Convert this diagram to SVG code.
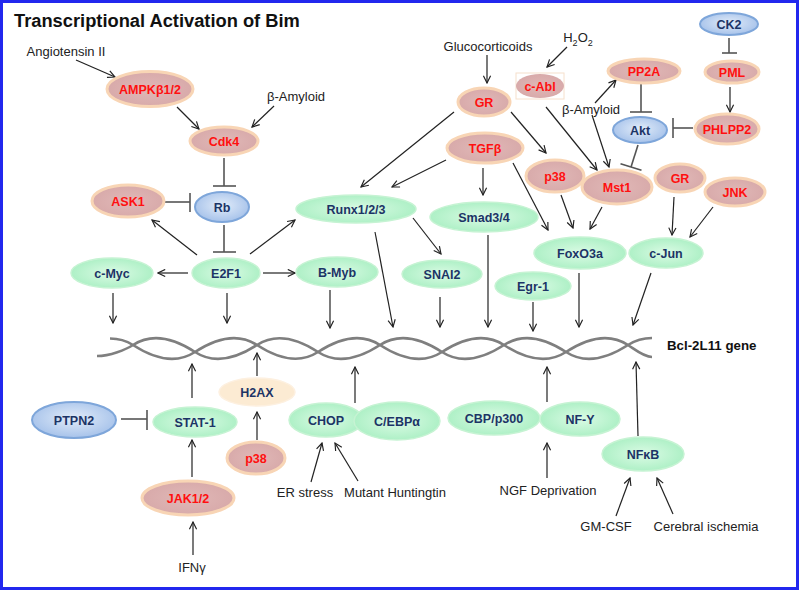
<svg xmlns="http://www.w3.org/2000/svg" width="799" height="590" viewBox="0 0 799 590">
<defs>
<radialGradient id="gG" cx="50%" cy="50%" r="50%"><stop offset="0" stop-color="#dbfbe5"/><stop offset="1" stop-color="#aef0c6"/></radialGradient>
<radialGradient id="gB" cx="50%" cy="45%" r="55%"><stop offset="0" stop-color="#e2ecf9"/><stop offset="1" stop-color="#a6c2ea"/></radialGradient>
<radialGradient id="gR" cx="50%" cy="50%" r="50%"><stop offset="0" stop-color="#e0b8b7"/><stop offset="1" stop-color="#d8aaaa"/></radialGradient>
<marker id="arr" viewBox="0 0 10 10" refX="9" refY="5" markerWidth="9" markerHeight="9" orient="auto" markerUnits="userSpaceOnUse">
<path d="M1,1 L9,5 L1,9" fill="none" stroke="#222" stroke-width="1.3"/>
</marker>
</defs>
<style>
.red ellipse{fill:url(#gR);stroke:#f8d5b5;stroke-width:3}
.grn ellipse{fill:url(#gG);stroke:#c6f3d3;stroke-width:1.5}
.blu ellipse{fill:url(#gB);stroke:#7ea6da;stroke-width:2}
.pch ellipse{fill:#fcebd3;stroke:#fdf0e0;stroke-width:1.5}
.red text{fill:#ff1010}
.grn text,.blu text,.pch text{fill:#1c3466}
.node text{font-family:"Liberation Sans",Arial,sans-serif;font-weight:bold;font-size:12.5px;text-anchor:middle}
.lbl{font-family:"Liberation Sans",Arial,sans-serif;font-size:13px;fill:#222;text-anchor:middle}
.arrows line{stroke:#222;stroke-width:1.2;marker-end:url(#arr)}
.inhib line{stroke:#555;stroke-width:1.6}
.dna path{fill:none;stroke:#7f7f7f;stroke-width:2.6}
</style>
<rect x="0" y="0" width="799" height="590" fill="#ffffff"/>
<rect x="1.5" y="1.5" width="796" height="587" fill="none" stroke="#2228ee" stroke-width="3"/>
<text x="14" y="27" font-family="Liberation Sans,Arial,sans-serif" font-weight="bold" font-size="18.3" fill="#111">Transcriptional Activation of Bim</text>

<g id="dna" class="dna">
<path d="M110,338.5 C118,338.5 126,340.5 133,345 C153,358 175,365 195,352 C215,339 237,332 257,345 C277,358 298,365 318,352 C338,339 360,332 380,345 C400,358 422,365 442,352 C462,339 484,332 504,345 C524,358 546,365 566,352 C586,339 608,332 628,345 C635,349.5 644,357 652,357"/>
<path d="M97,356 C110,356 126,349.5 133,345 C153,332 175,339 195,352 C215,365 237,358 257,345 C277,332 298,339 318,352 C338,365 360,358 380,345 C400,332 422,339 442,352 C462,365 484,358 504,345 C524,332 546,339 566,352 C586,365 608,358 628,345 C635,340.5 644,338 652,338"/>
</g>
<text x="667" y="350" font-family="Liberation Sans,Arial,sans-serif" font-weight="bold" font-size="13.3" fill="#111">Bcl-2L11 gene</text>

<g id="labels">
<text class="lbl" x="66" y="56">Angiotensin II</text>
<text class="lbl" x="296" y="101">β-Amyloid</text>
<text class="lbl" x="488" y="51">Glucocorticoids</text>
<text class="lbl" x="578" y="42">H<tspan font-size="9" dy="4">2</tspan><tspan dy="-4">O</tspan><tspan font-size="9" dy="4">2</tspan></text>
<text class="lbl" x="591" y="114">β-Amyloid</text>
<text class="lbl" x="192" y="572">IFNγ</text>
<text class="lbl" x="305" y="497">ER stress</text>
<text class="lbl" x="395" y="497">Mutant Huntingtin</text>
<text class="lbl" x="548" y="495">NGF Deprivation</text>
<text class="lbl" x="606" y="531">GM-CSF</text>
<text class="lbl" x="706" y="531">Cerebral ischemia</text>
</g>

<g id="connectors">
<g class="arrows">
<line x1="76" y1="60" x2="115" y2="77"/>
<line x1="177" y1="107" x2="199" y2="129"/>
<line x1="274" y1="106" x2="252" y2="127"/>
<line x1="197" y1="255" x2="152" y2="220"/>
<line x1="188" y1="273" x2="158" y2="273"/>
<line x1="113" y1="293" x2="113" y2="323"/>
<line x1="227" y1="293" x2="227" y2="323"/>
<line x1="250" y1="254" x2="295" y2="220"/>
<line x1="263" y1="273" x2="295" y2="273"/>
<line x1="454" y1="112" x2="361" y2="187"/>
<line x1="446" y1="160" x2="392" y2="187"/>
<line x1="413" y1="218" x2="441" y2="254"/>
<line x1="375" y1="232" x2="393" y2="327"/>
<line x1="330" y1="290" x2="330" y2="328"/>
<line x1="440" y1="297" x2="440" y2="327"/>
<line x1="483" y1="168" x2="483" y2="195"/>
<line x1="488" y1="235" x2="488" y2="327"/>
<line x1="487" y1="55" x2="487" y2="83"/>
<line x1="511" y1="112" x2="546" y2="153"/>
<line x1="513" y1="163" x2="548" y2="230"/>
<line x1="561" y1="195" x2="573" y2="228"/>
<line x1="602" y1="207" x2="590" y2="229"/>
<line x1="546" y1="107" x2="597" y2="170"/>
<line x1="595" y1="103" x2="616" y2="80"/>
<line x1="592" y1="115" x2="609" y2="167"/>
<line x1="567" y1="47" x2="547" y2="67"/>
<line x1="730" y1="87" x2="730" y2="112"/>
<line x1="674" y1="197" x2="672" y2="235"/>
<line x1="713" y1="207" x2="690" y2="237"/>
<line x1="533" y1="302" x2="533" y2="331"/>
<line x1="579" y1="273" x2="579" y2="327"/>
<line x1="651" y1="273" x2="633" y2="325"/>
<line x1="192" y1="398" x2="192" y2="364"/>
<line x1="192" y1="477" x2="192" y2="440"/>
<line x1="193" y1="555" x2="193" y2="522"/>
<line x1="257" y1="376" x2="257" y2="353"/>
<line x1="257" y1="440" x2="257" y2="412"/>
<line x1="355" y1="403" x2="355" y2="367"/>
<line x1="311" y1="482" x2="322" y2="443"/>
<line x1="358" y1="481" x2="335" y2="443"/>
<line x1="547" y1="402" x2="547" y2="367"/>
<line x1="547" y1="478" x2="547" y2="443"/>
<line x1="638" y1="436" x2="636" y2="362"/>
<line x1="616" y1="516" x2="630" y2="478"/>
<line x1="673" y1="514" x2="657" y2="478"/>
</g>
<g class="inhib">
<line x1="224" y1="158" x2="224" y2="186"/><line x1="213" y1="186" x2="236" y2="186"/>
<line x1="164" y1="202" x2="190" y2="202"/><line x1="190" y1="193" x2="190" y2="212"/>
<line x1="224" y1="225" x2="224" y2="252"/><line x1="213" y1="252" x2="236" y2="252"/>
<line x1="641" y1="83" x2="641" y2="112"/><line x1="630" y1="112" x2="652" y2="112"/>
<line x1="693" y1="128" x2="673" y2="128"/><line x1="673" y1="118" x2="673" y2="138"/>
<line x1="638" y1="145" x2="631" y2="167"/><line x1="620.5" y1="163.7" x2="641.5" y2="170.3"/>
<line x1="729" y1="38" x2="729" y2="53"/><line x1="722" y1="53" x2="737" y2="53"/>
<line x1="121" y1="419" x2="147" y2="419"/><line x1="147" y1="410" x2="147" y2="430"/>
</g>
</g>

<g id="AMPK" class="node red"><ellipse cx="150" cy="89" rx="43" ry="17.5"/><text x="150" y="93.5">AMPKβ1/2</text></g>
<g id="Cdk4" class="node red"><ellipse cx="224" cy="141" rx="34" ry="14"/><text x="224" y="145.5">Cdk4</text></g>
<g id="Rb" class="node blu"><ellipse cx="222" cy="207" rx="27" ry="15"/><text x="222" y="211.5">Rb</text></g>
<g id="ASK1" class="node red"><ellipse cx="128" cy="201" rx="36" ry="16"/><text x="128" y="205.5">ASK1</text></g>
<g id="E2F1" class="node grn"><ellipse cx="226" cy="273" rx="34" ry="15"/><text x="226" y="277.5">E2F1</text></g>
<g id="cMyc" class="node grn"><ellipse cx="112" cy="273" rx="41" ry="15"/><text x="112" y="277.5">c-Myc</text></g>
<g id="Runx" class="node grn"><ellipse cx="356" cy="209" rx="60" ry="14"/><text x="356" y="213.5">Runx1/2/3</text></g>
<g id="BMyb" class="node grn"><ellipse cx="337" cy="272" rx="41" ry="15"/><text x="337" y="276.5">B-Myb</text></g>
<g id="SNAI2" class="node grn"><ellipse cx="442" cy="274" rx="40" ry="14"/><text x="442" y="278.5">SNAI2</text></g>
<g id="Smad" class="node grn"><ellipse cx="484" cy="217" rx="54" ry="15"/><text x="484" y="221.5">Smad3/4</text></g>
<g id="TGFb" class="node red"><ellipse cx="485" cy="148" rx="38" ry="15"/><text x="485" y="152.5">TGFβ</text></g>
<g id="GR1" class="node red"><ellipse cx="484" cy="102" rx="26" ry="14"/><text x="484" y="106.5">GR</text></g>
<g id="cAbl" class="node red"><rect x="516" y="73" width="48" height="26" fill="none" stroke="#f6e0cc" stroke-width="1"/><ellipse cx="540" cy="86" rx="24" ry="12" style="stroke-width:0"/><text x="540" y="90.5">c-Abl</text></g>
<g id="p38a" class="node red"><ellipse cx="555" cy="176" rx="29" ry="16"/><text x="555" y="180.5">p38</text></g>
<g id="PP2A" class="node red"><ellipse cx="644" cy="71" rx="36" ry="12"/><text x="644" y="75.5">PP2A</text></g>
<g id="Akt" class="node blu"><ellipse cx="640" cy="130" rx="27" ry="13"/><text x="640" y="134.5">Akt</text></g>
<g id="PHLPP2" class="node red"><ellipse cx="727" cy="129" rx="32" ry="15"/><text x="727" y="133.5">PHLPP2</text></g>
<g id="PML" class="node red"><ellipse cx="732" cy="72" rx="27" ry="11"/><text x="732" y="76.5">PML</text></g>
<g id="CK2" class="node blu"><ellipse cx="729" cy="24" rx="29" ry="11"/><text x="729" y="28.5">CK2</text></g>
<g id="Mst1" class="node red"><ellipse cx="617" cy="187" rx="35" ry="17"/><text x="617" y="191.5">Mst1</text></g>
<g id="GR2" class="node red"><ellipse cx="680" cy="178" rx="25" ry="14"/><text x="680" y="182.5">GR</text></g>
<g id="JNK" class="node red"><ellipse cx="735" cy="192" rx="30" ry="14"/><text x="735" y="196.5">JNK</text></g>
<g id="cJun" class="node grn"><ellipse cx="666" cy="253" rx="37" ry="15"/><text x="666" y="257.5">c-Jun</text></g>
<g id="FoxO3a" class="node grn"><ellipse cx="580" cy="253" rx="46" ry="16"/><text x="580" y="257.5">FoxO3a</text></g>
<g id="Egr1" class="node grn"><ellipse cx="533" cy="286" rx="38" ry="14"/><text x="533" y="290.5">Egr-1</text></g>
<g id="PTPN2" class="node blu"><ellipse cx="74" cy="420" rx="42" ry="18"/><text x="74" y="424.5">PTPN2</text></g>
<g id="STAT1" class="node grn"><ellipse cx="195" cy="422" rx="42" ry="15"/><text x="195" y="426.5">STAT-1</text></g>
<g id="JAK" class="node red"><ellipse cx="188" cy="498" rx="46" ry="17"/><text x="188" y="502.5">JAK1/2</text></g>
<g id="H2AX" class="node pch"><ellipse cx="257" cy="392" rx="38" ry="14"/><text x="257" y="396.5">H2AX</text></g>
<g id="p38b" class="node red"><ellipse cx="256" cy="458" rx="29" ry="16"/><text x="256" y="462.5">p38</text></g>
<g id="CHOP" class="node grn"><ellipse cx="326" cy="420" rx="37" ry="17"/><text x="326" y="424.5">CHOP</text></g>
<g id="CEBP" class="node grn"><ellipse cx="397" cy="421" rx="43" ry="19"/><text x="397" y="425.5">C/EBPα</text></g>
<g id="CBP" class="node grn"><ellipse cx="494" cy="418" rx="46" ry="17"/><text x="494" y="422.5">CBP/p300</text></g>
<g id="NFY" class="node grn"><ellipse cx="580" cy="419" rx="40" ry="17"/><text x="580" y="423.5">NF-Y</text></g>
<g id="NFkB" class="node grn"><ellipse cx="643" cy="454" rx="41" ry="17"/><text x="643" y="458.5">NFκB</text></g>
</svg>
